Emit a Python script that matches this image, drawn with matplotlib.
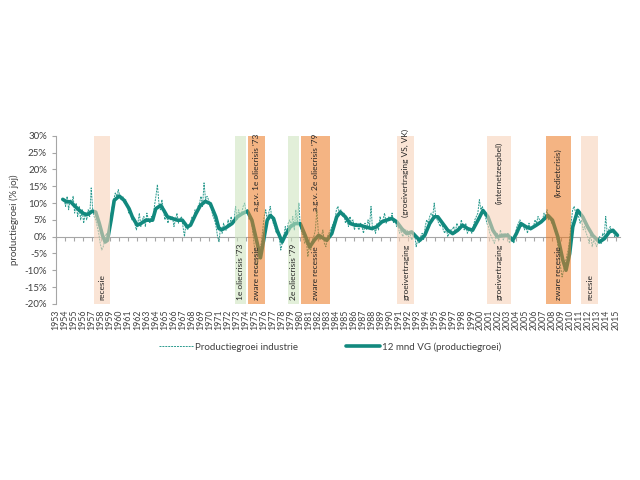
import matplotlib
matplotlib.use("Agg")
import matplotlib.pyplot as plt
import numpy as np

plt.rcParams['font.family'] = ['Lato', 'DejaVu Sans']

# ---- data -------------------------------------------------------------
raw_start = 1953.9
raw_step = 1.0 / 6.0
raw_values = [
    11, 9, 12, 8, 11, 10,          # 1954
    12, 7, 10, 6, 9, 5,            # 1955
    8, 4, 7, 5, 8, 6,              # 1956
    14.5, 8, 6, 5, 3, 1,           # 1957
    -2, -4, -3, -1, 1, 0,          # 1958
    3, 6, 9, 11, 13, 12,           # 1959
    14, 12, 11, 12, 10, 11,        # 1960
    9, 7, 8, 5, 6, 4,              # 1961
    2, 4, 7, 3, 5, 6,              # 1962
    3, 7, 5, 4, 6, 5,              # 1963
    9, 12, 15.5, 10, 8, 11,        # 1964
    8, 5, 7, 4, 6, 5,              # 1965
    6, 3, 5, 7, 4, 5,              # 1966
    6, 3, 0, 4, 2, 3,              # 1967
    4, 6, 5, 8, 7, 9,              # 1968
    10, 12, 9, 16, 11, 12,         # 1969
    11, 9, 8, 6, 5, 3,             # 1970
    0, -1.5, 3, 1, 4, 2,           # 1971
    2, 5, 3, 6, 4, 5,              # 1972
    9, 5, 8, 6, 7, 9,              # 1973
    10, 7, 8, 5, 6, 3,             # 1974
    -1, -5, -9, -7, -4, -2,        # 1975
    2, 6, 8, 5, 7, 9,              # 1976
    6, 4, 3, 1, 2, 0,              # 1977
    -4, -2, 0, 3, 1, 4,            # 1978
    5, 3, 6, 2, 8, 4,              # 1979
    10, 3, 1, 0, -2, -1,           # 1980
    -6, -3, -4, -1, 0, 2,          # 1981
    8, 1, -1, 0, 2, -2,            # 1982
    -3, 0, 1, 2, 3, 4,             # 1983
    5, 8, 9, 7, 8, 6,              # 1984
    7, 4, 5, 3, 6, 4,              # 1985
    5, 2, 4, 3, 2, 4,              # 1986
    3, 1, 4, 2, 5, 3,              # 1987
    9, 2, 3, 1, 4, 2,              # 1988
    6, 4, 5, 7, 4, 5,              # 1989
    6, 5, 7, 4, 5, 3,              # 1990
    3, 1, 2, 0, 1, 2,              # 1991
    2, 0, 1, -1, 0, 1,             # 1992
    -3, -1, -2, 0, 1, -1,          # 1993
    3, 5, 4, 6, 7, 6,              # 1994
    10, 6, 5, 4, 3, 4,             # 1995
    2, 1, 3, 0, 1, 2,              # 1996
    2, 3, 1, 4, 3, 2,              # 1997
    5, 3, 2, 4, 1, 2,              # 1998
    2, 1, 3, 5, 6, 7,              # 1999
    11, 8, 9, 7, 6, 4,             # 2000
    3, 1, 0, -1, -2, 0,            # 2001
    1, -1, 2, 0, -1, 1,            # 2002
    0, 1, -2, 0, -1, -2,           # 2003
    1, 3, 4, 5, 3, 4,              # 2004
    2, 3, 1, 4, 2, 3,              # 2005
    3, 5, 4, 6, 5, 4,              # 2006
    5, 7, 6, 8, 5, 6,              # 2007
    4, 5, 2, 1, -2, -5,            # 2008
    -9, -12, -10, -8, -6, -4,      # 2009
    -1, 4, 8, 9, 7, 6,             # 2010
    6, 4, 5, 2, 3, 1,              # 2011
    0, -2, 1, -3, -1, -2,          # 2012
    -3, -1, 0, -2, 1, 0,           # 2013
    6, 1, 2, 3, 1, 2,              # 2014
    0, 1,                          # 2015
]
raw_years = raw_start + raw_step * np.arange(len(raw_values))

ma_years = [1953.75, 1954.1, 1954.65, 1955.0, 1955.6, 1956.1, 1956.5, 1957.05, 1957.4,
            1957.8, 1958.15, 1958.45, 1958.7, 1959.1, 1959.45, 1960.0, 1960.55, 1961.1,
            1961.45, 1962.0, 1962.4, 1962.95, 1963.7, 1964.05, 1964.6, 1964.95, 1965.35,
            1965.9, 1966.45, 1967.0, 1967.55, 1967.9, 1968.5, 1969.0, 1969.55, 1970.1,
            1970.7, 1971.05, 1971.4, 1971.95, 1972.5, 1973.1, 1973.6, 1974.2, 1974.7,
            1975.3, 1975.65, 1976.0, 1976.4, 1976.75, 1977.1, 1977.5, 1978.05, 1978.4,
            1978.95, 1979.5, 1980.05, 1980.6, 1981.1, 1981.6, 1982.1, 1983.0, 1983.55,
            1984.1, 1984.5, 1985.05, 1985.6, 1986.15, 1986.7, 1987.25, 1988.0, 1988.5,
            1989.1, 1989.6, 1990.2, 1990.75, 1991.3, 1991.85, 1992.4, 1992.75, 1993.3,
            1993.85, 1994.4, 1994.9, 1995.3, 1995.85, 1996.4, 1996.95, 1997.5, 1998.05,
            1998.6, 1999.15, 1999.75, 2000.3, 2000.85, 2001.4, 2001.9, 2002.5, 2003.05,
            2003.6, 2004.0, 2004.5, 2005.1, 2005.6, 2006.2, 2006.75, 2007.5, 2008.0,
            2008.6, 2009.15, 2009.5, 2009.9, 2010.25, 2010.8, 2011.35, 2011.9, 2012.45,
            2013.2, 2013.75, 2014.3, 2014.7, 2015.2]
ma_values = [11.1, 10.5, 10.3, 9.3, 7.8, 6.8, 6.6, 7.6, 7.3,
             3.9, 0.4, -1.6, -1.1, 4.9, 10.8, 12.1, 10.8, 8.3,
             5.9, 3.4, 3.9, 4.9, 4.9, 8.3, 9.3, 7.8, 5.9,
             5.4, 4.9, 4.9, 2.9, 3.4, 6.8, 9.3, 10.5, 9.8,
             5.9, 2.4, 2.1, 2.9, 3.9, 5.9, 6.8, 7.6, 4.9,
             -2.1, -6.3, -1.1, 4.9, 6.3, 5.4, 1.9, -1.6, 0.4,
             2.9, 3.9, 3.9, 0.4, -3.1, -1.1, 0.4, -1.1, 0.9,
             5.9, 7.3, 5.9, 3.9, 3.4, 3.4, 2.9, 2.4, 2.9,
             4.4, 4.9, 5.4, 4.4, 2.4, 0.9, 1.4, 0.4, -1.1,
             0.4, 3.9, 5.9, 5.9, 3.9, 1.9, 0.9, 1.9, 3.4,
             2.4, 1.9, 4.9, 7.8, 5.9, 1.9, -0.1, 0.4, 0.4,
             -1.1, 0.9, 3.9, 2.9, 2.4, 3.4, 4.4, 6.3, 4.9,
             -0.1, -7.0, -10.0, -5.1, 2.9, 7.8, 5.9, 2.9, 0.4,
             -1.6, -0.6, 1.4, 1.9, 0.4]

year_labels = list(range(1953, 2016))

bands = [  # (start, end, kind, bottom text, top text)
    (1957.2, 1959.0, 'light', 'recesie', ''),
    (1972.8, 1974.05, 'green', "1e oliecrisis '73", ''),
    (1974.25, 1976.1, 'dark', 'zware recessie', "a.g.v. 1e oliecrisis '73"),
    (1978.7, 1979.9, 'green', "2e oliecrisis '79", ''),
    (1980.1, 1983.3, 'dark', 'zware recessie', "a.g.v. 2e oliecrisis '79"),
    (1990.8, 1992.7, 'light', 'groeivertraging', '(groeivertraging VS, VK)'),
    (2000.8, 2003.4, 'light', 'groeivertraging', '(internetzeepbel)'),
    (2007.3, 2010.0, 'dark', 'zware recessie', '(kredietcrisis)'),
    (2011.2, 2013.0, 'light', 'recesie', ''),
]
band_style = {
    'light': ('#F8D2B8', 0.58),
    'green': ('#CDE4BF', 0.58),
    'dark': ('#EB771E', 0.55),
}

# ---- figure -----------------------------------------------------------
fig = plt.figure(figsize=(6.4, 4.8), dpi=100)
ax = fig.add_axes([0.0875, 0.367, 0.969 - 0.0875, 0.717 - 0.367])

teal = '#12897E'
ax.plot(raw_years, raw_values, color='#2C9B8F', lw=0.7, ls=(0, (2, 1)), zorder=2,
        label='Productiegroei industrie')
ax.plot(ma_years, ma_values, color=teal, lw=2.6, zorder=3,
        solid_capstyle='round', label='12 mnd VG (productiegroei)')

for x0, x1, kind, bottom_txt, top_txt in bands:
    col, a = band_style[kind]
    ax.axvspan(x0, x1, color=col, alpha=a, lw=0, zorder=4)
    xc = (x0 + x1) / 2
    if bottom_txt:
        ax.text(xc, -18.9, bottom_txt, rotation=90, ha='center', va='bottom',
                fontsize=6, color='#262626', zorder=5)
    if top_txt:
        ax.text(xc, 19.0, top_txt, rotation=90, ha='center', va='center',
                fontsize=6, color='#262626', zorder=5)

ax.set_xlim(1953.0, 2015.5)
ax.set_ylim(-20, 30)
ax.set_yticks(range(-20, 31, 5))
ax.set_yticklabels([f'{v}%' for v in range(-20, 31, 5)], fontsize=7, color='#404040')
ax.set_ylabel('productiegroei (% joj)', fontsize=7, color='#404040', labelpad=4)

for s in ['top', 'right']:
    ax.spines[s].set_visible(False)
ax.spines['left'].set_color('#A6A6A6')
ax.spines['bottom'].set_position(('data', 0))
ax.spines['bottom'].set_color('#A6A6A6')
ax.spines['bottom'].set_zorder(1)
ax.set_xticks(year_labels)
ax.tick_params(axis='x', length=3, color='#A6A6A6', labelbottom=False, direction='out')
ax.tick_params(axis='y', length=3, color='#A6A6A6', direction='out')

sec = ax.secondary_xaxis(0.0)
sec.set_xticks(year_labels)
sec.set_xticklabels([str(y) for y in year_labels], rotation=90, fontsize=6.3,
                    color='#404040')
sec.tick_params(length=0, pad=4)
sec.spines['bottom'].set_visible(False)

fig.legend(loc='center', bbox_to_anchor=(330 / 640, 1 - 347 / 480), ncol=2,
           frameon=False, fontsize=7, columnspacing=5, handlelength=3.5,
           handletextpad=0.2, labelcolor='#404040')

fig.savefig('out.png', dpi=100)
